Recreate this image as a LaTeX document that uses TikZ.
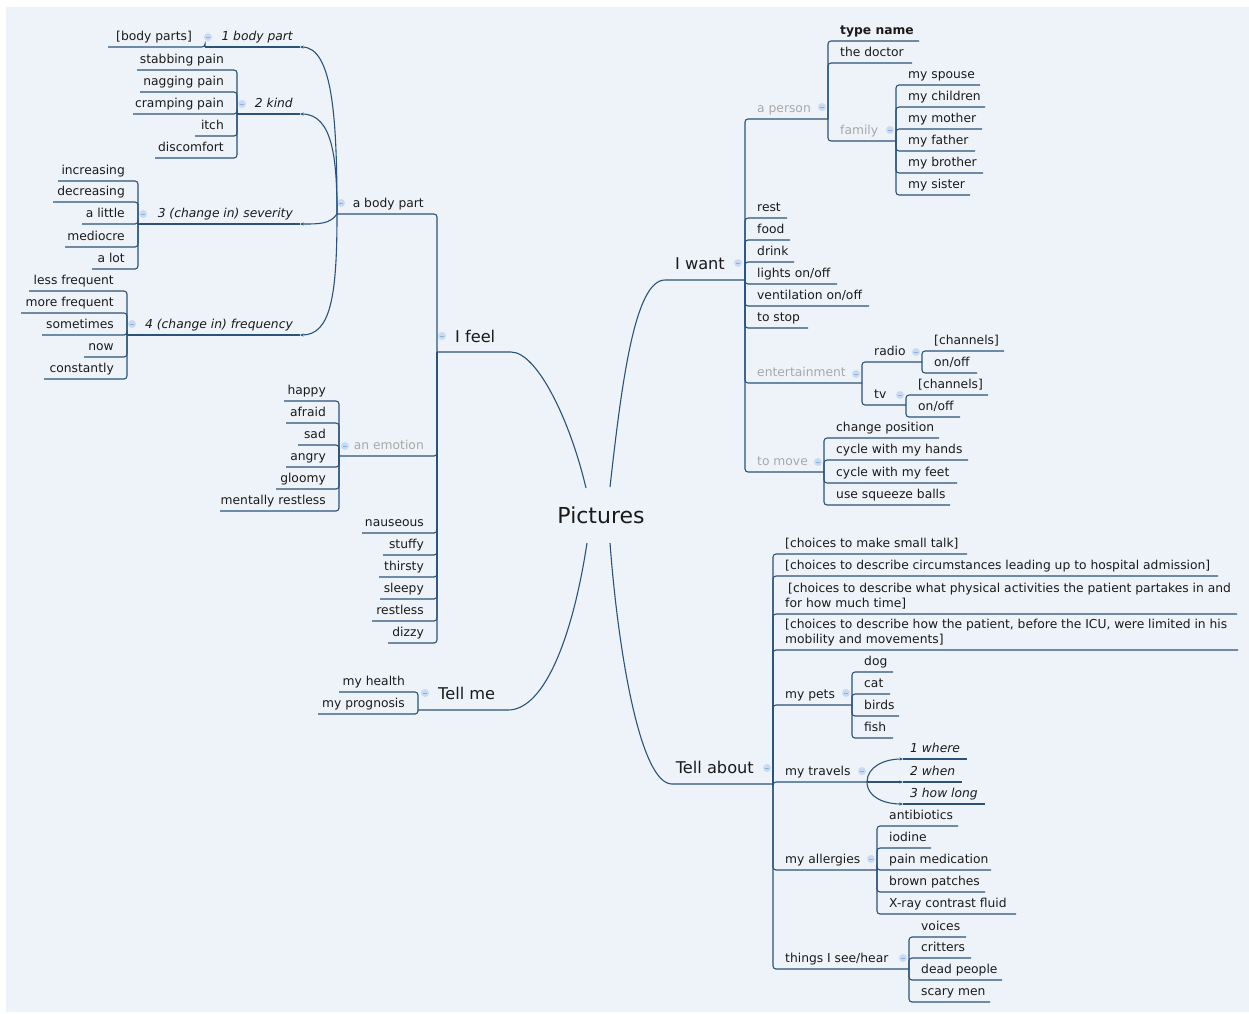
\documentclass[tikz,border=0pt]{standalone}
\usepackage{fontspec}
\setmainfont{DejaVu Sans}
\usetikzlibrary{arrows.meta}
\definecolor{bgc}{HTML}{EEF3FA}
\definecolor{lnc}{RGB}{44,82,120}
\definecolor{txc}{HTML}{1A1A1A}
\definecolor{grc}{HTML}{A8A8A8}
\definecolor{icf}{HTML}{C8DBF3}
\definecolor{icm}{HTML}{8CAEDB}
\tikzset{
 cn/.style={draw=lnc, line width=1.1pt, rounded corners=3pt},
 tipped/.style={-{Stealth[length=3.5pt,width=3pt]}},
 lf/.style={inner sep=0pt, text=txc, font=\fontsize{12.3}{15}\selectfont},
 gry/.style={lf, text=grc},
 itl/.style={lf, font=\fontsize{12.3}{15}\selectfont\itshape},
 bld/.style={lf, font=\fontsize{12.3}{15}\selectfont\bfseries},
 mln/.style={lf, align=left},
 bignode/.style={inner sep=0pt, text=txc, font=\fontsize{16.2}{19}\selectfont},
 ttl/.style={inner sep=0pt, text=txc, font=\fontsize{22}{26}\selectfont},
 icon/.style={circle, fill=icf, minimum size=8pt, inner sep=0pt,
   path picture={\draw[icm, line width=0.9pt] ([xshift=-2pt]path picture bounding box.center) -- ([xshift=2pt]path picture bounding box.center);}},
}
% left child: style, id, parent, barx, y, leftx, text
\newcommand\myL[7][lf]{%
  \coordinate (#2e) at (#6,#5);
  \node[#1,anchor=base east] (#2) at (#4-13,#5-7) {#7};
  \draw[cn] (#3) |- (#2e);}
% right child: style, id, parent, barx, y, rightx, text
\newcommand\myR[7][lf]{%
  \coordinate (#2e) at (#6,#5);
  \node[#1,anchor=base west] (#2) at (#4+12,#5-7) {#7};
  \draw[cn] (#3) |- (#2e);}
\newcommand\myI[3]{\node[icon] (#1) at (#2,#3) {};}
\begin{document}
\begin{tikzpicture}[x=1pt,y=-1pt]
\fill[white] (0,0) rectangle (1249,1013);
\useasboundingbox (0,0) rectangle (1249,1013);
\fill[bgc] (6,7) rectangle (1249,1012);

% centre
\node[ttl] (pic) at (601,515) {Pictures};
\coordinate (cA) at (586,488);
\coordinate (cB) at (610,487);
\coordinate (cC) at (587,543);
\coordinate (cD) at (610,543);

% ---------- I feel ----------
\coordinate (feelB) at (437,352);
\coordinate (feelE) at (508,352);
\node[bignode,anchor=base west] (feel) at (455,342) {I feel};
\myI{ifeel}{442}{336}
\draw[cn] (cA) .. controls (570,420) and (537,352) .. (feelE) -- (feelB);

\myL{body}{feelB}{437}{214}{337}{a body part}
\myI{ibody}{341}{203}
\myL[gry]{emo}{feelB}{437}{456}{339}{an emotion}
\myI{iemo}{345}{446}
\myL{naus}{feelB}{437}{533}{362}{nauseous}
\myL{stuf}{feelB}{437}{555}{383}{stuffy}
\myL{thir}{feelB}{437}{577}{379}{thirsty}
\myL{slee}{feelB}{437}{599}{380}{sleepy}
\myL{rstl}{feelB}{437}{621}{372}{restless}
\myL{dizz}{feelB}{437}{643}{388}{dizzy}

% 1 body part
\coordinate (bp1E) at (300,47); \coordinate (bp1B) at (205,47);
\node[itl,anchor=base east] (bp1) at (293,40) {1 body part};
\myI{ibp1}{208}{37}
\draw[cn,tipped] (bodye) .. controls (337,120) and (333,47) .. (bp1E);
\draw[cn] (bp1E) -- (bp1B);
\myL{bps}{bp1B}{205}{47}{108}{[body parts]}

% 2 kind
\coordinate (kindE) at (300,114); \coordinate (kindB) at (237,114);
\node[itl,anchor=base east] (kind) at (293,107) {2 kind};
\myI{ikind}{242}{104}
\draw[cn,tipped] (bodye) .. controls (337,160) and (333,114) .. (kindE);
\draw[cn] (kindE) -- (kindB);
\myL{stab}{kindB}{237}{70}{137}{stabbing pain}
\myL{nagg}{kindB}{237}{92}{140}{nagging pain}
\myL{cram}{kindB}{237}{114}{133}{cramping pain}
\myL{itch}{kindB}{237}{136}{195}{itch}
\myL{disc}{kindB}{237}{158}{155}{discomfort}

% 3 severity
\coordinate (sevE) at (300,224); \coordinate (sevB) at (138,224);
\node[itl,anchor=base east] (sev) at (293,217) {3 (change in) severity};
\myI{isev}{143}{214}
\draw[cn,tipped] (bodye) .. controls (330,224) and (320,224) .. (sevE);
\draw[cn] (sevE) -- (sevB);
\myL{incr}{sevB}{138}{181}{58}{increasing}
\myL{decr}{sevB}{138}{202}{53}{decreasing}
\myL{litt}{sevB}{138}{224}{82}{a little}
\myL{medi}{sevB}{138}{247}{65}{mediocre}
\myL{alot}{sevB}{138}{269}{92}{a lot}

% 4 frequency
\coordinate (frqE) at (300,335); \coordinate (frqB) at (127,335);
\node[itl,anchor=base east] (frq) at (293,328) {4 (change in) frequency};
\myI{ifrq}{132}{324}
\draw[cn,tipped] (bodye) .. controls (337,295) and (331,335) .. (frqE);
\draw[cn] (frqE) -- (frqB);
\myL{less}{frqB}{127}{291}{29}{less frequent}
\myL{more}{frqB}{127}{313}{21}{more frequent}
\myL{some}{frqB}{127}{335}{42}{sometimes}
\myL{now}{frqB}{127}{357}{84}{now}
\myL{cons}{frqB}{127}{379}{44}{constantly}

% emotions
\myL{happ}{emoe}{339}{401}{284}{happy}
\myL{afra}{emoe}{339}{423}{286}{afraid}
\myL{sad}{emoe}{339}{445}{298}{sad}
\myL{angr}{emoe}{339}{467}{286}{angry}
\myL{gloo}{emoe}{339}{489}{276}{gloomy}
\myL{ment}{emoe}{339}{511}{220}{mentally restless}

% ---------- Tell me ----------
\coordinate (meB) at (418,710); \coordinate (meE) at (505,710);
\node[bignode,anchor=base west] (tme) at (438,699) {Tell me};
\myI{ime}{425}{693}
\draw[cn] (cC) .. controls (573,635) and (545,710) .. (meE) -- (meB);
\myL{hlth}{meB}{418}{692}{339}{my health}
\myL{prog}{meB}{418}{714}{318}{my prognosis}

% ---------- I want ----------
\coordinate (wantE) at (668,280); \coordinate (wantB) at (745,280);
\node[bignode,anchor=base east] (want) at (725,269) {I want};
\myI{iwant}{738}{263}
\draw[cn] (cB) .. controls (622,380) and (635,280) .. (wantE) -- (wantB);

\myR[gry]{pers}{wantB}{745}{119}{828}{a person}
\myI{ipers}{822}{107}
\myR[bld]{tnam}{perse}{828}{41}{919}{type name}
\myR{doct}{perse}{828}{63}{912}{the doctor}
\myR[gry]{fam}{perse}{828}{141}{896}{family}
\myI{ifam}{890}{130}
\myR{spou}{fame}{896}{85}{980}{my spouse}
\myR{chil}{fame}{896}{107}{985}{my children}
\myR{moth}{fame}{896}{129}{982}{my mother}
\myR{fath}{fame}{896}{151}{975}{my father}
\myR{brot}{fame}{896}{173}{983}{my brother}
\myR{sist}{fame}{896}{195}{970}{my sister}
\myR{rest}{wantB}{745}{218}{787}{rest}
\myR{food}{wantB}{745}{240}{790}{food}
\myR{drin}{wantB}{745}{262}{794}{drink}
\myR{ligh}{wantB}{745}{284}{837}{lights on/off}
\myR{vent}{wantB}{745}{306}{869}{ventilation on/off}
\myR{stop}{wantB}{745}{328}{808}{to stop}
\myR[gry]{ent}{wantB}{745}{383}{862}{entertainment}
\myI{ient}{856}{374}
\myR{radi}{ente}{862}{362}{922}{radio}
\myI{iradi}{916}{352}
\myR{rch}{radie}{922}{351}{1004}{[channels]}
\myR{ron}{radie}{922}{373}{977}{on/off}
\myR{tv}{ente}{862}{405}{906}{tv}
\myI{itv}{900}{395}
\myR{tch}{tve}{906}{395}{988}{[channels]}
\myR{ton}{tve}{906}{417}{960}{on/off}
\myR[gry]{move}{wantB}{745}{472}{824}{to move}
\myI{imove}{818}{462}
\myR{chpo}{movee}{824}{438}{939}{change position}
\myR{cyha}{movee}{824}{460}{968}{cycle with my hands}
\myR{cyfe}{movee}{824}{483}{957}{cycle with my feet}
\myR{sqze}{movee}{824}{505}{950}{use squeeze balls}

% ---------- Tell about ----------
\coordinate (aboutE) at (675,784); \coordinate (aboutB) at (773,784);
\node[bignode,anchor=base east] (about) at (754,773) {Tell about};
\myI{iabout}{767}{768}
\draw[cn] (cD) .. controls (618,650) and (640,784) .. (aboutE) -- (aboutB);

\myR{smal}{aboutB}{773}{554}{967}{[choices to make small talk]}
\myR{circ}{aboutB}{773}{576}{1218}{[choices to describe circumstances leading up to hospital admission]}
\myR[mln]{phys}{aboutB}{773}{614}{1237}{\hspace*{3pt}[choices to describe what physical activities the patient partakes in and\\for how much time]}
\myR[mln]{icu}{aboutB}{773}{650}{1238}{[choices to describe how the patient, before the ICU, were limited in his\\mobility and movements]}

\myR{pets}{aboutB}{773}{705}{852}{my pets}
\myI{ipets}{846}{693}
\myR{dog}{petse}{852}{672}{893}{dog}
\myR{cat}{petse}{852}{694}{890}{cat}
\myR{bird}{petse}{852}{716}{899}{birds}
\myR{fish}{petse}{852}{738}{893}{fish}

\myR{trav}{aboutB}{773}{782}{867}{my travels}
\myI{itrav}{862}{771}
\coordinate (wh1E) at (903,759); \coordinate (wh1x) at (967,759);
\coordinate (wh2E) at (903,782); \coordinate (wh2x) at (962,782);
\coordinate (wh3E) at (903,804); \coordinate (wh3x) at (985,804);
\node[itl,anchor=base west] (wh1) at (910,752) {1 where};
\node[itl,anchor=base west] (wh2) at (910,775) {2 when};
\node[itl,anchor=base west] (wh3) at (910,797) {3 how long};
\draw[cn,tipped] (trave) .. controls (867,767) and (884,759) .. (wh1E);
\draw[cn,tipped] (trave) -- (wh2E);
\draw[cn,tipped] (trave) .. controls (867,797) and (884,804) .. (wh3E);
\draw[cn] (wh1E) -- (wh1x);
\draw[cn] (wh2E) -- (wh2x);
\draw[cn] (wh3E) -- (wh3x);

\myR{alle}{aboutB}{773}{870}{877}{my allergies}
\myI{ialle}{871}{859}
\myR{anti}{allee}{877}{826}{958}{antibiotics}
\myR{iodi}{allee}{877}{848}{931}{iodine}
\myR{painm}{allee}{877}{870}{991}{pain medication}
\myR{brow}{allee}{877}{892}{985}{brown patches}
\myR{xray}{allee}{877}{914}{1016}{X-ray contrast fluid}

\myR{thin}{aboutB}{773}{969}{909}{things I see/hear}
\myI{ithin}{903}{958}
\myR{voic}{thine}{909}{937}{966}{voices}
\myR{crit}{thine}{909}{958}{971}{critters}
\myR{dead}{thine}{909}{980}{1002}{dead people}
\myR{scar}{thine}{909}{1002}{990}{scary men}
\end{tikzpicture}
\end{document}
